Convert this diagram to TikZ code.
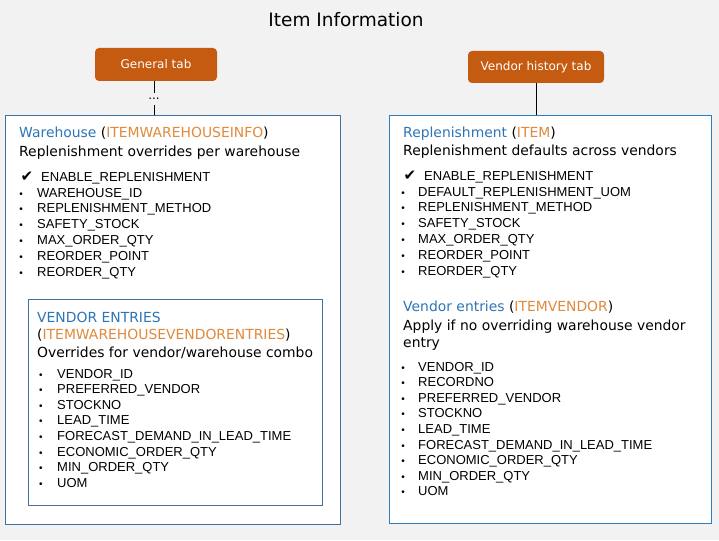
\documentclass[tikz,border=0pt]{standalone}
\usepackage{fontspec}
\setmainfont{DejaVu Sans}
\newfontfamily\arialf{Liberation Sans}
\definecolor{bgc}{HTML}{F2F2F2}
\definecolor{hblue}{HTML}{2E75B6}
\definecolor{horange}{HTML}{E08A3C}
\definecolor{tabfill}{HTML}{C55A11}
\definecolor{lbord}{HTML}{41719C}
\definecolor{rbord}{HTML}{2E7FBF}
\begin{document}
\begin{tikzpicture}[x=1pt,y=-1pt,
  box/.style={draw=#1, fill=white, line width=0.8pt, anchor=north west, inner sep=0pt},
  tabbox/.style={fill=tabfill, rounded corners=4pt, text=white, font=\fontsize{12}{14}\selectfont, inner sep=0pt, minimum height=33pt},
  hdr/.style={anchor=base west, inner sep=0pt, font=\fontsize{13.9}{16}\selectfont},
  itm/.style={anchor=base west, inner sep=0pt, font=\arialf\fontsize{13}{15}\selectfont},
  bul/.style={anchor=base, inner sep=0pt, font=\arialf\fontsize{10}{12}\selectfont},
  chk/.style={anchor=base, inner sep=0pt, font=\fontsize{15}{15}\selectfont},
  conn/.style={draw=black, line width=0.8pt}]
\fill[bgc] (0,0) rectangle (719,540);
\useasboundingbox (0,0) rectangle (719,540);

\node[anchor=base, inner sep=0pt, font=\fontsize{18.5}{21}\selectfont] (title) at (346,26.5) {Item Information};

% tabs
\node[tabbox, minimum width=122pt] (gt) at (156,64.5) {General tab};
\node[tabbox, minimum width=136pt, minimum height=32pt] (vt) at (536,67) {Vendor history tab};

% boxes
\node[box=lbord, minimum width=335pt, minimum height=409pt] (lb) at (5,115) {};
\node[box=lbord, minimum width=294pt, minimum height=206pt] (ib) at (28,299) {};
\node[box=rbord, minimum width=322pt, minimum height=408pt] (rb) at (389,115) {};

% connectors
\node[inner sep=0pt, font=\fontsize{12}{12}\selectfont, minimum height=12pt] (dots) at (154,99) {...};
\draw[conn] (gt.south -| dots) -- (dots.north);
\draw[conn] (dots.south) -- (dots.south |- lb.north);
\draw[conn] (vt.south) -- (vt.south |- rb.north);

% left box header
\node[hdr] (lh1) at (19,138) {\textcolor{hblue}{Warehouse} (\textcolor{horange}{ITEMWAREHOUSEINFO})};
\node[hdr] (lh2) at (19,157) {Replenishment overrides per warehouse};
\node[chk] (lck) at (27,181.5) {✔};
\node[itm] (lct) at (41,181) {ENABLE\_REPLENISHMENT};
\foreach \t [count=\i] in {WAREHOUSE\_ID, REPLENISHMENT\_METHOD, SAFETY\_STOCK, MAX\_ORDER\_QTY, REORDER\_POINT, REORDER\_QTY} {
  \node[bul] (lbu\i) at (21,{197+15.8*(\i-1)}) {•};
  \node[itm] (lit\i) at (37,{197+15.8*(\i-1)}) {\t};
}

% inner box
\node[hdr] (ih1) at (37,322) {\textcolor{hblue}{VENDOR ENTRIES}};
\node[hdr] (ih2) at (37,339) {(\textcolor{horange}{ITEMWAREHOUSEVENDORENTRIES})};
\node[hdr] (ih3) at (37,357) {Overrides for vendor/warehouse combo};
\foreach \t [count=\i] in {VENDOR\_ID, PREFERRED\_VENDOR, STOCKNO, LEAD\_TIME, FORECAST\_DEMAND\_IN\_LEAD\_TIME, ECONOMIC\_ORDER\_QTY, MIN\_ORDER\_QTY, UOM} {
  \node[bul] (ibu\i) at (41,{378+15.6*(\i-1)}) {•};
  \node[itm] (iit\i) at (57,{378+15.6*(\i-1)}) {\t};
}

% right box
\node[hdr] (rh1) at (403,138) {\textcolor{hblue}{Replenishment} (\textcolor{horange}{ITEM})};
\node[hdr] (rh2) at (403,156) {Replenishment defaults across vendors};
\node[chk] (rck) at (410,180.5) {✔};
\node[itm] (rct) at (424,180) {ENABLE\_REPLENISHMENT};
\foreach \t [count=\i] in {DEFAULT\_REPLENISHMENT\_UOM, REPLENISHMENT\_METHOD, SAFETY\_STOCK, MAX\_ORDER\_QTY, REORDER\_POINT, REORDER\_QTY} {
  \node[bul] (rbu\i) at (403,{196+15.8*(\i-1)}) {•};
  \node[itm] (rit\i) at (418,{196+15.8*(\i-1)}) {\t};
}
\node[hdr] (rv1) at (403,311) {\textcolor{hblue}{Vendor entries} (\textcolor{horange}{ITEMVENDOR})};
\node[hdr] (rv2) at (403,330) {Apply if no overriding warehouse vendor};
\node[hdr] (rv3) at (403,347) {entry};
\foreach \t [count=\i] in {VENDOR\_ID, RECORDNO, PREFERRED\_VENDOR, STOCKNO, LEAD\_TIME, FORECAST\_DEMAND\_IN\_LEAD\_TIME, ECONOMIC\_ORDER\_QTY, MIN\_ORDER\_QTY, UOM} {
  \node[bul] (rvb\i) at (403,{371+15.6*(\i-1)}) {•};
  \node[itm] (rvt\i) at (418,{371+15.6*(\i-1)}) {\t};
}
\end{tikzpicture}
\end{document}
